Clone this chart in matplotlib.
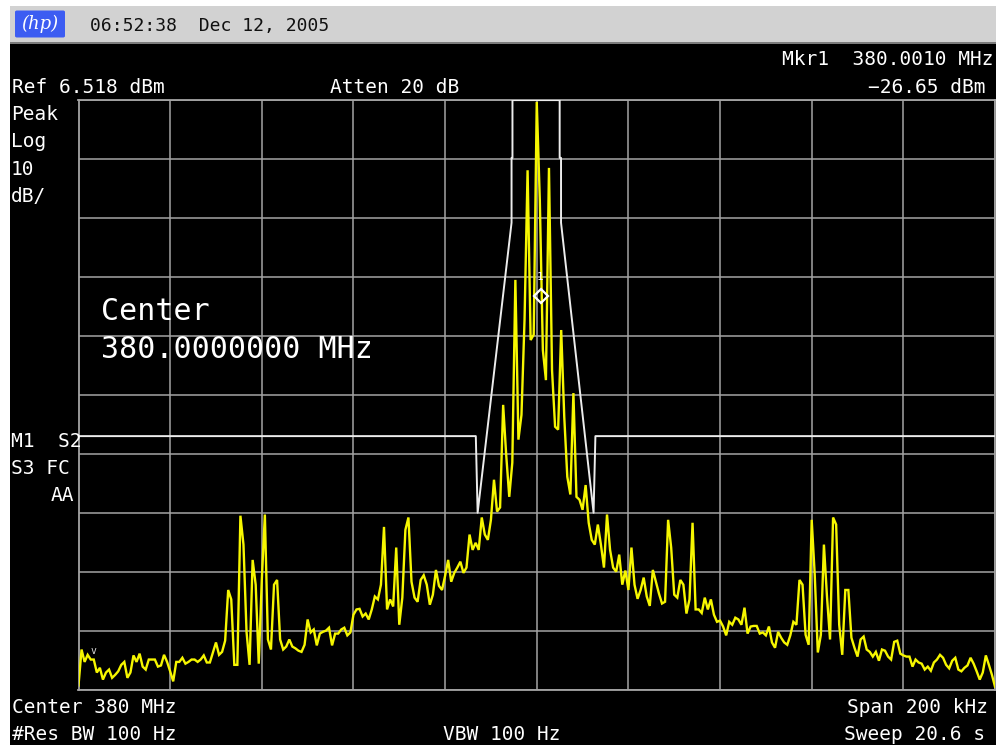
import matplotlib
matplotlib.use('Agg')
import matplotlib.pyplot as plt
import numpy as np
from matplotlib.patches import Rectangle, FancyBboxPatch

plt.rcParams['font.family'] = ['DejaVu Sans Mono', 'DejaVu Sans']

# --- instrument settings (from the screen annotations) ---
REF_DBM = 6.518
DB_PER_DIV = 10
SPAN_KHZ = 200
MARKER_KHZ = 1.0          # 380.0010 MHz - 380 MHz
MARKER_DBM = -26.65

# --- trace, one value per sweep point (dBm) ---
levels_dbm = [
    -92.8, -86.7, -88.8, -87.6, -88.4, -88.4, -90.6, -89.8, -91.8, -90.6,
    -90.1, -91.5, -91.0, -90.4, -89.3, -88.8, -91.5, -90.6, -87.7, -88.8,
    -87.4, -89.6, -90.1, -88.4, -88.4, -88.4, -89.6, -89.4, -87.6, -88.8,
    -90.4, -92.1, -88.8, -88.8, -88.1, -89.1, -88.8, -88.4, -88.4, -88.8,
    -88.4, -87.7, -88.9, -88.9, -87.2, -85.5, -87.6, -87.1, -85.2, -76.6,
    -78.2, -89.3, -89.3, -64.0, -68.9, -83.7, -89.3, -71.5, -75.7, -89.1,
    -74.9, -63.8, -85.0, -86.7, -75.7, -74.9, -85.0, -86.7, -86.2, -85.0,
    -86.2, -86.5, -86.9, -87.1, -85.9, -81.6, -83.8, -83.3, -86.0, -84.0,
    -83.7, -83.5, -83.0, -86.0, -84.0, -84.0, -83.3, -83.0, -84.3, -83.8,
    -80.8, -79.9, -79.8, -81.1, -80.6, -81.6, -79.9, -77.7, -78.2, -75.7,
    -65.9, -79.9, -78.2, -79.4, -69.4, -82.5, -77.9, -66.4, -64.3, -75.2,
    -77.9, -78.6, -74.9, -74.1, -75.7, -79.1, -77.4, -73.2, -75.9, -76.6,
    -74.2, -71.5, -75.2, -73.7, -72.8, -71.8, -73.7, -72.8, -67.2, -69.8,
    -68.6, -69.8, -64.3, -67.2, -68.1, -64.7, -57.9, -63.3, -62.6, -45.2,
    -53.7, -60.8, -55.0, -24.0, -51.1, -46.9, -30.8, -5.4, -34.2, -33.3,
    6.2, -10.4, -35.9, -41.0, -5.0, -39.3, -48.9, -49.4, -32.5, -47.2,
    -57.4, -60.4, -43.2, -60.8, -61.3, -63.0, -58.8, -65.2, -68.1, -68.9,
    -65.5, -68.9, -72.8, -63.8, -69.8, -72.8, -73.5, -70.6, -75.7, -73.3,
    -76.6, -69.4, -75.7, -78.1, -76.6, -74.5, -77.7, -79.3, -73.2, -75.2,
    -77.2, -78.9, -78.6, -64.7, -69.4, -77.4, -77.9, -74.9, -75.7, -80.6,
    -78.2, -65.2, -79.9, -79.9, -80.5, -77.9, -79.9, -78.2, -80.8, -82.0,
    -81.8, -82.8, -84.3, -82.0, -82.5, -81.3, -81.6, -82.5, -79.6, -84.0,
    -82.8, -82.7, -82.7, -84.0, -83.8, -84.3, -82.8, -85.5, -86.4, -83.7,
    -84.7, -85.5, -85.9, -84.3, -82.0, -82.5, -74.9, -75.7, -84.2, -85.9,
    -64.7, -74.1, -87.2, -84.2, -68.9, -77.7, -85.0, -64.3, -65.5, -82.5,
    -87.6, -76.6, -76.6, -84.7, -86.4, -87.9, -85.0, -84.5, -86.7, -87.1,
    -87.9, -87.1, -88.6, -86.7, -86.9, -87.9, -88.4, -85.4, -85.2, -87.4,
    -87.7, -87.9, -87.9, -89.6, -88.4, -88.9, -89.1, -90.1, -89.6, -90.3,
    -88.9, -88.4, -87.6, -88.1, -89.3, -89.9, -88.6, -88.1, -90.1, -90.4,
    -89.8, -89.4, -88.1, -89.1, -90.4, -91.8, -90.6, -87.7, -89.3, -91.0,
    -93.0,
]

# --- limit line (white mask), vertices ---
limit_khz = [-100, -13.3, -12.9, -5.5, -5.5, -5.3, -5.3, 5.0, 5.0, 5.3, 5.3, 12.4, 12.8, 100]
limit_dbm = [-50.5, -50.5, -63.5, -14.3, -3.3, -3.3, 6.5, 6.5, -3.3, -3.3, -14.3, -63.5, -50.5, -50.5]

W, H = 1000, 747
GRID = '#a4a4a4'
TRACE = '#f6f600'


def fx(x):
    return x / W


def fy(y):
    return 1 - y / H


fig = plt.figure(figsize=(W / 100, H / 100), dpi=100)
fig.patch.set_facecolor('white')

# screen frame: grey title bar + black display
fig.patches.append(Rectangle((fx(10), fy(745)), fx(986), 702 / H, transform=fig.transFigure,
                             facecolor='black', edgecolor='none', zorder=-10))
fig.patches.append(Rectangle((fx(10), fy(42)), fx(986), 36 / H, transform=fig.transFigure,
                             facecolor='#d2d2d2', edgecolor='none', zorder=-9))
fig.patches.append(Rectangle((fx(10), fy(43.5)), fx(986), 1.5 / H, transform=fig.transFigure,
                             facecolor='#7c7c7c', edgecolor='none', zorder=-8))
fig.patches.append(FancyBboxPatch((fx(17), fy(36)), fx(46), 24 / H, transform=fig.transFigure,
                                  boxstyle='round,pad=0.002', facecolor='#3c5cf2',
                                  edgecolor='none', zorder=-7))
fig.text(fx(40), fy(24), '(hp)', color='white', fontsize=13, fontstyle='italic',
         family='DejaVu Serif', ha='center', va='center')
fig.text(fx(90), fy(31), '06:52:38  Dec 12, 2005', color='#111111', fontsize=13, va='baseline')

# annotations around the graticule
small = dict(color='white', fontsize=14, va='baseline')
fig.text(fx(993), fy(65), 'Mkr1  380.0010 MHz', ha='right', **small)
fig.text(fx(985), fy(93), '\u221226.65 dBm', ha='right', **small)
fig.text(fx(12), fy(93), 'Ref 6.518 dBm', **small)
fig.text(fx(330), fy(93), 'Atten 20 dB', **small)
for label, yb in [('Peak', 120), ('Log', 147), ('10', 175), ('dB/', 202),
                  ('M1  S2', 447), ('S3 FC', 474)]:
    fig.text(fx(11), fy(yb), label, **small)
fig.text(fx(74), fy(501), 'AA', ha='right', **small)
fig.text(fx(12), fy(713), 'Center 380 MHz', **small)
fig.text(fx(12), fy(740), '#Res BW 100 Hz', **small)
fig.text(fx(443), fy(740), 'VBW 100 Hz', **small)
fig.text(fx(988), fy(713), 'Span 200 kHz', ha='right', **small)
fig.text(fx(985), fy(740), 'Sweep 20.6 s', ha='right', **small)

# large centre-frequency readout
big = dict(color='white', fontsize=21.6, va='baseline', zorder=6)
fig.text(fx(101), fy(320), 'Center', **big)
fig.text(fx(101), fy(358), '380.0000000 MHz', **big)

# graticule
ax = fig.add_axes([fx(78.5), fy(689.5), 916.5 / W, 589.5 / H])
ax.set_facecolor('none')
bottom = REF_DBM - 10 * DB_PER_DIV
ax.set_xlim(-SPAN_KHZ / 2, SPAN_KHZ / 2)
ax.set_ylim(bottom, REF_DBM)
ax.set_xticks(np.linspace(-SPAN_KHZ / 2, SPAN_KHZ / 2, 11))
ax.set_yticks(np.linspace(bottom, REF_DBM, 11))
ax.tick_params(length=0, labelbottom=False, labelleft=False)
ax.grid(True, color=GRID, lw=1.1)
for s in ax.spines.values():
    s.set_color(GRID)
    s.set_linewidth(1.3)

freq_khz = np.linspace(-SPAN_KHZ / 2, SPAN_KHZ / 2, len(levels_dbm))
ax.plot(limit_khz, limit_dbm, color='#ececec', lw=1.4, zorder=3)
ax.plot(freq_khz, levels_dbm, color=TRACE, lw=1.7, zorder=4, solid_joinstyle='miter')

ax.plot(MARKER_KHZ, MARKER_DBM, marker='D', ms=7, mfc='none', mec='white', mew=1.6, zorder=5)
ax.annotate('1', (MARKER_KHZ, MARKER_DBM), xytext=(-1, 10), textcoords='offset points',
            color='white', fontsize=8, ha='center', va='bottom', zorder=5)
ax.text(-96.8, -87.0, 'v', color='#dddddd', fontsize=7, ha='center', va='center')

fig.savefig('out.png', dpi=100, facecolor=fig.get_facecolor())
